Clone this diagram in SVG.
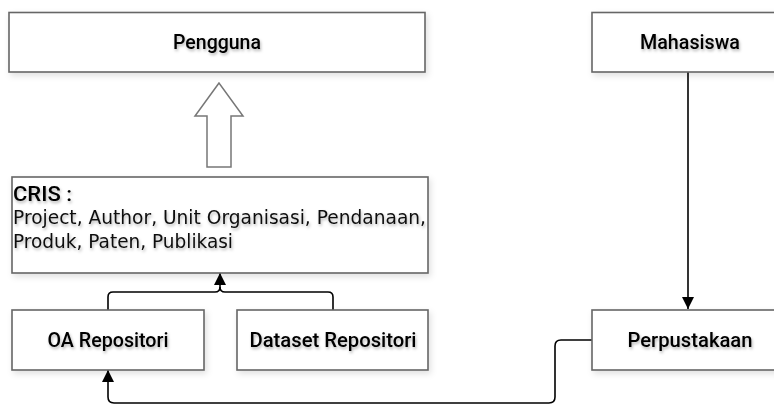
<svg xmlns="http://www.w3.org/2000/svg" width="774" height="405" viewBox="0 0 774 405">
<style>
.box{fill:#fff;stroke:#666;stroke-width:1.6;filter:url(#bs)}
.lbl{font-family:Roboto,"Liberation Sans",Arial,sans-serif;font-weight:500;font-size:20px;fill:#000;text-anchor:middle;filter:url(#ts)}
.body{font-family:"DejaVu Sans","Liberation Sans",sans-serif;font-size:19.5px;fill:#111;filter:url(#ts)}
.con{fill:none;stroke:#000;stroke-width:1.6}
</style>
<defs>
<filter id="bs" x="-10%" y="-20%" width="120%" height="150%"><feDropShadow dx="2" dy="3" stdDeviation="3" flood-color="#000" flood-opacity="0.12"/></filter>
<filter id="ts" x="-10%" y="-40%" width="120%" height="180%"><feDropShadow dx="1" dy="2" stdDeviation="1.5" flood-color="#000" flood-opacity="0.3"/></filter>
<marker id="ah2" viewBox="0 0 12 12" refX="12" refY="6" markerWidth="12" markerHeight="12" markerUnits="userSpaceOnUse" orient="auto"><path d="M0,0 L12,6 L0,12 Z" fill="#000"/></marker>
</defs>
<g id="connectors">
<path class="con" d="M108,310 V297 Q108,292 113,292 H215 Q220,292 220,287 V273" marker-end="url(#ah2)"/>
<path class="con" d="M333,310 V297 Q333,292 328,292 H225 Q220,292 220,287"/>
<path class="con" d="M688,72 V309" marker-end="url(#ah2)"/>
<path class="con" d="M592,340 H561 Q555,340 555,346 V397 Q555,403 549,403 H114 Q108,403 108,397 V370" marker-end="url(#ah2)"/>
<polygon id="big-arrow" points="219,83 195,116 207,116 207,167 231,167 231,116 243,116" fill="#fff" stroke="#777" stroke-width="1.5"/>
</g>
<g id="pengguna"><rect class="box" x="9" y="12.5" width="416" height="59.5"/><text class="lbl" x="217" y="49" textLength="88" lengthAdjust="spacingAndGlyphs">Pengguna</text></g>
<g id="cris"><rect class="box" x="12" y="177" width="416" height="96"/>
<text class="lbl" x="13" y="201" style="text-anchor:start" textLength="59" lengthAdjust="spacingAndGlyphs">CRIS :</text>
<text class="body" x="13" y="224" textLength="413" lengthAdjust="spacingAndGlyphs">Project, Author, Unit Organisasi, Pendanaan,</text>
<text class="body" x="13" y="248" textLength="220" lengthAdjust="spacingAndGlyphs">Produk, Paten, Publikasi</text></g>
<g id="oa"><rect class="box" x="12" y="310" width="192" height="60"/><text class="lbl" x="108" y="347" textLength="121" lengthAdjust="spacingAndGlyphs">OA Repositori</text></g>
<g id="dataset"><rect class="box" x="237" y="310" width="191" height="60"/><text class="lbl" x="333" y="347" textLength="167" lengthAdjust="spacingAndGlyphs">Dataset Repositori</text></g>
<g id="mahasiswa"><rect class="box" x="592" y="12.5" width="190" height="59.5"/><text class="lbl" x="690" y="49" textLength="100" lengthAdjust="spacingAndGlyphs">Mahasiswa</text></g>
<g id="perpustakaan"><rect class="box" x="592" y="310" width="190" height="60"/><text class="lbl" x="690" y="347" textLength="125" lengthAdjust="spacingAndGlyphs">Perpustakaan</text></g>
</svg>
